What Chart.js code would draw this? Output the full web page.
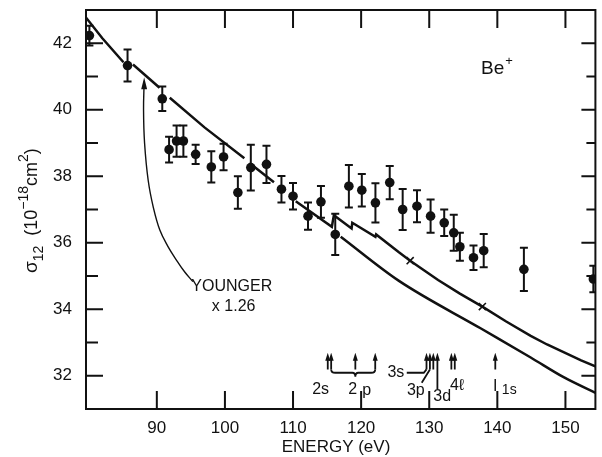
<!DOCTYPE html>
<html>
<head>
<meta charset="utf-8">
<script src="https://cdn.jsdelivr.net/npm/chart.js@4.4.1/dist/chart.umd.min.js"></script>
<style>
  html, body { margin: 0; padding: 0; background: #fff; }
  #wrap { width: 602px; height: 457px; }
</style>
</head>
<body>
<div id="wrap"><canvas id="myChart" width="602" height="457"></canvas></div>
<script>
  // measured cross sections (Be+), 10^-18 cm^2
  var energy = [80.1, 85.7, 90.8, 91.8, 92.9, 93.9, 95.7, 98.0, 99.8, 101.9, 103.8, 106.1, 108.3, 110.0, 112.2, 114.1,
                116.2, 118.2, 120.1, 122.1, 124.2, 126.1, 128.2, 130.2, 132.2, 133.6, 134.5, 136.5, 138.0, 143.9, 154.1];
  var sigma = [42.23, 41.33, 40.33, 38.80, 39.06, 39.06, 38.66, 38.28, 38.58, 37.51, 38.26, 38.36, 37.61, 37.40, 36.80, 37.23,
               36.25, 37.70, 37.58, 37.20, 37.81, 37.00, 37.10, 36.80, 36.60, 36.30, 35.88, 35.55, 35.76, 35.20, 34.91];
  var sigmaErr = [0.30, 0.48, 0.37, 0.39, 0.47, 0.47, 0.29, 0.47, 0.40, 0.49, 0.69, 0.56, 0.40, 0.40, 0.41, 0.48,
                  0.62, 0.64, 0.49, 0.59, 0.50, 0.62, 0.48, 0.50, 0.40, 0.54, 0.42, 0.37, 0.50, 0.65, 0.40];

  // Younger x 1.26 (upper curve, with gaps and threshold steps); null = break in the line
  var youngerE = [79.5, 82.0, 85.1, 85.8, 86.5, 90.4, 91.2, 91.9, 97.0, 102.85, 103.2, 103.6, 107.2, 108.8, 110.4, 115.7,
                  116.0, 118.6, 118.7, 122.1, 122.2, 125.5, 127.2, 131.3, 134.5, 137.8, 141.3, 144.9, 147.3, 149.8, 152.3, 154.9];
  var youngerS = [42.8, 42.15, 41.43, null, 41.36, 40.66, null, 40.36, 39.47, 38.54, null, 38.40, 37.82, null, 37.25, 36.48,
                  36.83, 36.43, 36.60, 36.18, 36.25, 35.72, 35.46, 34.88, 34.47, 34.08, 33.63, 33.20, 32.94, 32.70, 32.46, 32.24];
  // lower curve
  var lowerE = [117.0, 125.5, 137.6, 144.9, 149.8, 154.9];
  var lowerS = [36.18, 34.86, 33.42, 32.55, 31.95, 31.44];
  // x marks on the upper curve
  var markE = [127.2, 137.8];
  var markS = [35.46, 34.08];

  // tick values
  var xTicks = [90, 100, 110, 120, 130, 140, 150];
  var yTicks = [32, 34, 36, 38, 40, 42];

  // threshold arrows (eV)
  var levelE = [115.1, 115.6, 119.15, 122.07, 129.6, 130.1, 130.6, 131.2, 133.25, 133.75, 139.7];

  // "Younger" pointer curve
  var pointerE = [88.14, 88.05, 88.2, 88.73, 89.5, 90.44, 91.6, 92.88, 94.1, 95.3];
  var pointerS = [40.85, 40.0, 39.0, 37.88, 37.05, 36.38, 35.9, 35.48, 35.12, 34.83];

  function pts(xs, ys) {
    return xs.map(function (v, i) { return { x: v, y: ys[i] }; });
  }

  var FONT = '"Liberation Sans", Arial, Helvetica, sans-serif';

  var decor = {
    id: 'decor',
    afterDatasetsDraw: function (chart) {
      var ctx = chart.ctx, x = chart.scales.x, y = chart.scales.y, a = chart.chartArea;
      ctx.save();
      ctx.beginPath();
      ctx.rect(a.left, a.top, a.right - a.left, a.bottom - a.top);
      ctx.clip();
      ctx.strokeStyle = '#111';
      ctx.fillStyle = '#111';
      ctx.lineWidth = 2;
      // error bars
      energy.forEach(function (e, i) {
        var px = x.getPixelForValue(e);
        var t = y.getPixelForValue(sigma[i] + sigmaErr[i]);
        var b = y.getPixelForValue(sigma[i] - sigmaErr[i]);
        ctx.beginPath();
        ctx.moveTo(px, t); ctx.lineTo(px, b);
        ctx.moveTo(px - 4, t); ctx.lineTo(px + 4, t);
        ctx.moveTo(px - 4, b); ctx.lineTo(px + 4, b);
        ctx.stroke();
      });

      // arrow helper
      function arrow(px, tipY, baseY, w, h) {
        ctx.beginPath();
        ctx.moveTo(px, baseY); ctx.lineTo(px, tipY + h - 1);
        ctx.stroke();
        ctx.beginPath();
        ctx.moveTo(px, tipY);
        ctx.lineTo(px - w / 2, tipY + h);
        ctx.lineTo(px + w / 2, tipY + h);
        ctx.closePath();
        ctx.fill();
      }

      // pointer arrow head for "Younger"
      arrow(x.getPixelForValue(pointerE[0]), y.getPixelForValue(40.98), y.getPixelForValue(40.7), 6, 12);

      // threshold arrows
      ctx.lineWidth = 1.8;
      var tip = y.getPixelForValue(32.69), base = y.getPixelForValue(32.19);
      levelE.forEach(function (e, i) {
        var b = (i === 7) ? y.getPixelForValue(31.6) : base;
        arrow(x.getPixelForValue(e), tip, b, 5, 8);
      });

      // 2p brace
      var yb = y.getPixelForValue(32.09), yd = y.getPixelForValue(31.97);
      var xl = x.getPixelForValue(115.6), xm = x.getPixelForValue(119.15), xr = x.getPixelForValue(122.07);
      ctx.beginPath();
      ctx.moveTo(xl, base);
      ctx.quadraticCurveTo(xl, yb, xl + 4, yb);
      ctx.lineTo(xm - 3, yb);
      ctx.quadraticCurveTo(xm, yb, xm, yd);
      ctx.quadraticCurveTo(xm, yb, xm + 3, yb);
      ctx.lineTo(xr - 4, yb);
      ctx.quadraticCurveTo(xr, yb, xr, base);
      ctx.stroke();

      // 3s and 3p leader lines
      ctx.beginPath();
      ctx.moveTo(x.getPixelForValue(126.7), yb);
      ctx.lineTo(x.getPixelForValue(129.2), yb);
      ctx.lineTo(x.getPixelForValue(129.6), base);
      ctx.moveTo(x.getPixelForValue(128.9), y.getPixelForValue(31.79));
      ctx.lineTo(x.getPixelForValue(130.1), base);
      ctx.stroke();

      // labels
      ctx.textAlign = 'center';
      ctx.textBaseline = 'middle';
      function label(t, e, s, size) {
        ctx.font = (size || 16) + 'px ' + FONT;
        ctx.fillText(t, x.getPixelForValue(e), y.getPixelForValue(s));
      }
      label('2s', 114.05, 31.58);
      label('2', 118.76, 31.58);
      label('p', 120.8, 31.55);
      label('3s', 125.1, 32.09);
      label('3p', 128.03, 31.55);
      label('3d', 131.9, 31.36);
      label('4\u2113', 134.09, 31.71);
      label('I', 139.7, 31.68);
      label('1s', 141.75, 31.58, 14);
      label('YOUNGER', 101.0, 34.68, 16);
      label('x 1.26', 101.28, 34.08, 16);

      // Be+
      ctx.font = '19px ' + FONT;
      ctx.textAlign = 'left';
      var bx = x.getPixelForValue(137.6), by = y.getPixelForValue(41.22);
      ctx.fillText('Be', bx, by);
      var bw = ctx.measureText('Be').width;
      ctx.font = '13px ' + FONT;
      ctx.fillText('+', bx + bw + 1, by - 8);
      ctx.restore();
    },
    afterDraw: function (chart) {
      var ctx = chart.ctx, x = chart.scales.x, y = chart.scales.y, a = chart.chartArea;
      ctx.save();
      ctx.strokeStyle = '#111';
      ctx.lineWidth = 2;
      ctx.strokeRect(a.left, a.top, a.right - a.left, a.bottom - a.top);
      ctx.beginPath();
      xTicks.forEach(function (v) {
        var px = x.getPixelForValue(v);
        ctx.moveTo(px, a.bottom); ctx.lineTo(px, a.bottom - 18);
        ctx.moveTo(px, a.top); ctx.lineTo(px, a.top + 18);
      });
      for (var v = 32; v <= 42; v++) {
        var py = y.getPixelForValue(v);
        var major = v % 2 === 0;
        ctx.moveTo(a.left, py); ctx.lineTo(a.left + (major ? 17 : 12), py);
        ctx.moveTo(a.right, py); ctx.lineTo(a.right - (major ? 14 : 9), py);
      }
      ctx.stroke();

      // axis titles
      ctx.fillStyle = '#111';
      ctx.font = '17px ' + FONT;
      ctx.textAlign = 'center';
      ctx.textBaseline = 'middle';
      ctx.fillText('ENERGY (eV)', 336, 447);

      ctx.translate(37, 273);
      ctx.rotate(-Math.PI / 2);
      ctx.textAlign = 'left';
      ctx.textBaseline = 'alphabetic';
      var cx = 0;
      function piece(t, size, dy) {
        ctx.font = size + 'px ' + FONT;
        ctx.fillText(t, cx, dy);
        cx += ctx.measureText(t).width;
      }
      piece('\u03c3', 19, 0);
      piece('12', 14, 6);
      piece('  (10', 18, 0);
      piece('\u221218', 14, -9);
      piece('cm', 18, 0);
      piece('2', 14, -9);
      piece(')', 18, 0);
      ctx.restore();
    }
  };

  var ctx = document.getElementById('myChart');

  new Chart(ctx, {
    type: 'scatter',
    data: {
      datasets: [{
        label: 'Measured',
        data: pts(energy, sigma),
        pointRadius: 4.8,
        pointBackgroundColor: '#111',
        pointBorderColor: '#111',
        pointBorderWidth: 0
      },
      {
        type: 'line',
        label: 'Younger x 1.26',
        data: pts(youngerE, youngerS),
        borderColor: '#111',
        borderWidth: 2.5,
        pointRadius: 0,
        tension: 0,
        spanGaps: false
      },
      {
        type: 'line',
        label: 'Lower',
        data: pts(lowerE, lowerS),
        borderColor: '#111',
        borderWidth: 2.5,
        pointRadius: 0,
        cubicInterpolationMode: 'monotone'
      },
      {
        label: 'Marks',
        data: pts(markE, markS),
        pointStyle: 'crossRot',
        pointRadius: 5,
        pointBorderWidth: 1.6,
        pointBorderColor: '#111'
      },
      {
        type: 'line',
        label: 'Pointer',
        data: pts(pointerE, pointerS),
        borderColor: '#111',
        borderWidth: 1.4,
        pointRadius: 0,
        tension: 0.4
      }]
    },
    options: {
      responsive: false,
      animation: false,
      events: [],
      layout: { padding: { top: 10, right: 4, left: 0, bottom: 0 } },
      plugins: { legend: { display: false }, tooltip: { enabled: false } },
      scales: {
        x: {
          type: 'linear',
          min: 79.6,
          max: 154.4,
          grid: { display: false, drawTicks: false },
          border: { display: false },
          afterFit: function (s) { s.height = 48; s.paddingLeft = 0; s.paddingRight = 0; },
          afterBuildTicks: function (s) { s.ticks = xTicks.map(function (v) { return { value: v }; }); },
          ticks: { color: '#111', font: { size: 17, family: FONT }, padding: 9, maxRotation: 0 }
        },
        y: {
          min: 31,
          max: 43,
          grid: { display: false, drawTicks: false },
          border: { display: false },
          afterFit: function (s) { s.width = 86; s.paddingTop = 0; s.paddingBottom = 0; },
          afterBuildTicks: function (s) { s.ticks = yTicks.map(function (v) { return { value: v }; }); },
          ticks: { color: '#111', font: { size: 17, family: FONT }, padding: 14 }
        }
      }
    },
    plugins: [decor]
  });
</script>
</body>
</html>
